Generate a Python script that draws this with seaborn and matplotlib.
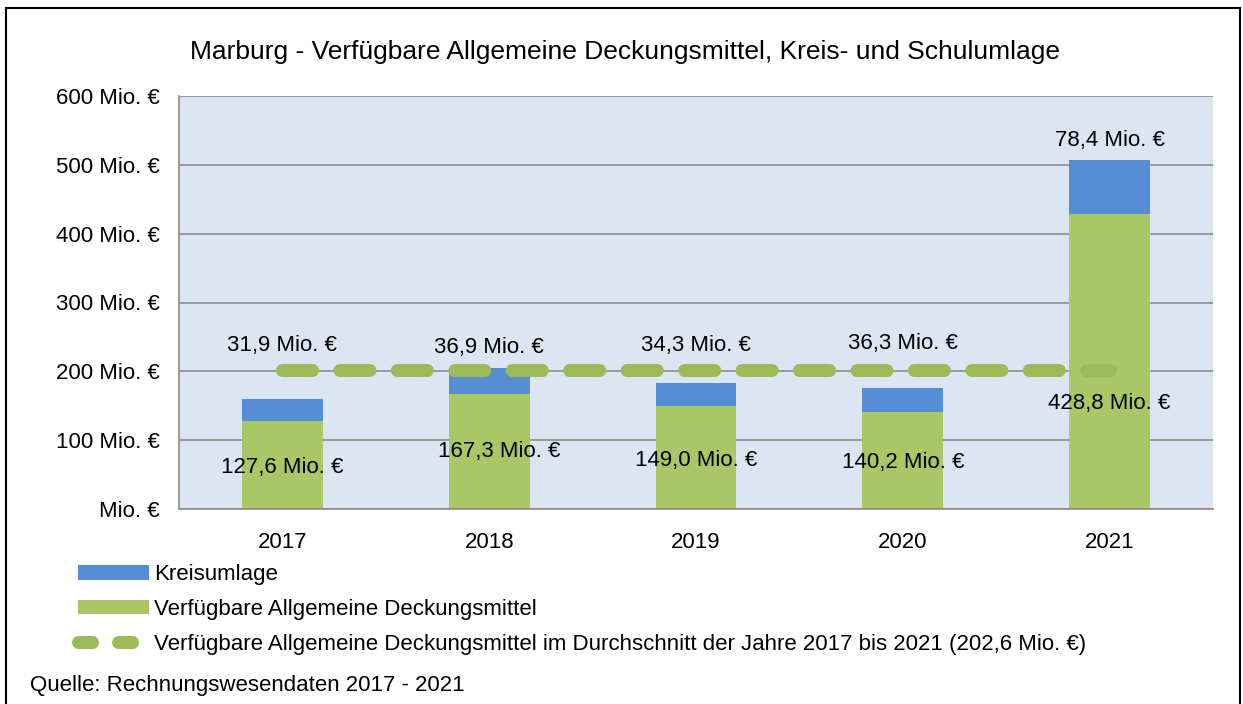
import matplotlib
matplotlib.use("Agg")
import matplotlib.pyplot as plt
import seaborn as sns
import pandas as pd
import numpy as np
from matplotlib.patches import Patch, Rectangle
from matplotlib.lines import Line2D

# ---- data ----
years = ["2017", "2018", "2019", "2020", "2021"]
deckungsmittel = [127.6, 167.3, 149.0, 140.2, 428.8]
kreisumlage = [31.9, 36.9, 34.3, 36.3, 78.4]
durchschnitt = 202.6
yticks = [0, 100, 200, 300, 400, 500, 600]
ytick_labels = ["Mio. €", "100 Mio. €", "200 Mio. €", "300 Mio. €", "400 Mio. €", "500 Mio. €", "600 Mio. €"]

# label layout (y positions of data labels, in data units)
kreis_label_y = [237, 234, 237, 241, 536]
deck_label_y = [61, 83, 70, 67, 153]
deck_label_dx = [0, 0.05, 0, 0, 0]

df = pd.DataFrame({"Jahr": years, "Deck": deckungsmittel, "Kreis": kreisumlage})
df["Total"] = df["Deck"] + df["Kreis"]

sns.set_theme(style="white")
plt.rcParams["font.family"] = ["Liberation Sans", "DejaVu Sans"]
plt.rcParams["text.color"] = "black"
plt.rcParams["xtick.color"] = "black"
plt.rcParams["ytick.color"] = "black"
plt.rcParams["xtick.labelcolor"] = "black"
plt.rcParams["ytick.labelcolor"] = "black"

BLUE = "#558ED5"
GREEN = "#A9C764"
LINEGREEN = "#9BBB59"
BG = "#DCE6F2"
GRID = "#8C8C8C"
FS = 16

fig = plt.figure(figsize=(12.43, 7.04), dpi=100)
ax = fig.add_axes([179/1243, 1-509/704, (1213-179)/1243, (509-96)/704])
ax.set_facecolor(BG)

sns.barplot(data=df, x="Jahr", y="Total", color=BLUE, width=0.39, ax=ax,
            saturation=1, edgecolor="none", zorder=3)
sns.barplot(data=df, x="Jahr", y="Deck", color=GREEN, width=0.39, ax=ax,
            saturation=1, edgecolor="none", zorder=3)

ax.plot([0, 4], [durchschnitt, durchschnitt], color=LINEGREEN, lw=9.4,
        dashes=(2.3, 2.1), dash_capstyle="round", solid_capstyle="round", zorder=4)

ax.set_xlim(-0.5, 4.5)
ax.set_ylim(0, 600)
ax.set_yticks(yticks)
ax.set_yticklabels(ytick_labels, fontsize=FS)
ax.yaxis.grid(True, color=GRID, lw=1.2, zorder=0)
ax.set_axisbelow(True)
ax.set_xlabel("")
ax.set_ylabel("")
ax.set_xticks(range(5))
ax.set_xticklabels(years, fontsize=FS)
ax.set_xticks(np.arange(-0.5, 5, 1), minor=True)
ax.tick_params(axis="x", which="major", length=0, pad=16.5)
ax.tick_params(axis="x", which="minor", length=6, color=GRID, width=1.2, direction="out")
ax.tick_params(axis="y", which="major", length=6, color=GRID, width=1.2, direction="out", pad=8)
for s in ["top", "right"]:
    ax.spines[s].set_visible(False)
for s in ["left", "bottom"]:
    ax.spines[s].set_color(GRID)
    ax.spines[s].set_linewidth(1.2)
    ax.spines[s].set_zorder(5)

for i in range(5):
    ax.text(i, kreis_label_y[i], f"{kreisumlage[i]:.1f} Mio. €".replace(".", ",", 1),
            ha="center", va="center", fontsize=FS, zorder=6)
    ax.text(i + deck_label_dx[i], deck_label_y[i], f"{deckungsmittel[i]:.1f} Mio. €".replace(".", ",", 1),
            ha="center", va="center", fontsize=FS, zorder=6)

fig.text(625/1243, 1-52/704, "Marburg - Verfügbare Allgemeine Deckungsmittel, Kreis- und Schulumlage",
         ha="center", va="center", fontsize=19)

handles = [
    Patch(facecolor=BLUE, edgecolor="none"),
    Patch(facecolor=GREEN, edgecolor="none"),
    Line2D([0], [0], color=LINEGREEN, lw=9.4, dashes=(1.07, 2.0), dash_capstyle="round"),
]
labels = [
    "Kreisumlage",
    "Verfügbare Allgemeine Deckungsmittel",
    f"Verfügbare Allgemeine Deckungsmittel im Durchschnitt der Jahre 2017 bis 2021 ({durchschnitt:.1f} Mio. €)".replace("202.6", "202,6"),
]
fig.legend(handles, labels, loc="upper left", bbox_to_anchor=(78/1243, 1-564/704),
           frameon=False, fontsize=FS, handlelength=3.2, handleheight=0.65,
           handletextpad=0.23, labelspacing=0.62, borderpad=0, borderaxespad=0)

fig.text(30/1243, 1-686/704, "Quelle: Rechnungswesendaten 2017 - 2021", ha="left", va="center", fontsize=FS)

fig.patches.append(Rectangle((6/1243, -0.02), (1240-6)/1243, 1-8/704+0.02, transform=fig.transFigure,
                             fill=False, edgecolor="black", lw=1.5, zorder=10))

fig.savefig("out.png", dpi=100)
